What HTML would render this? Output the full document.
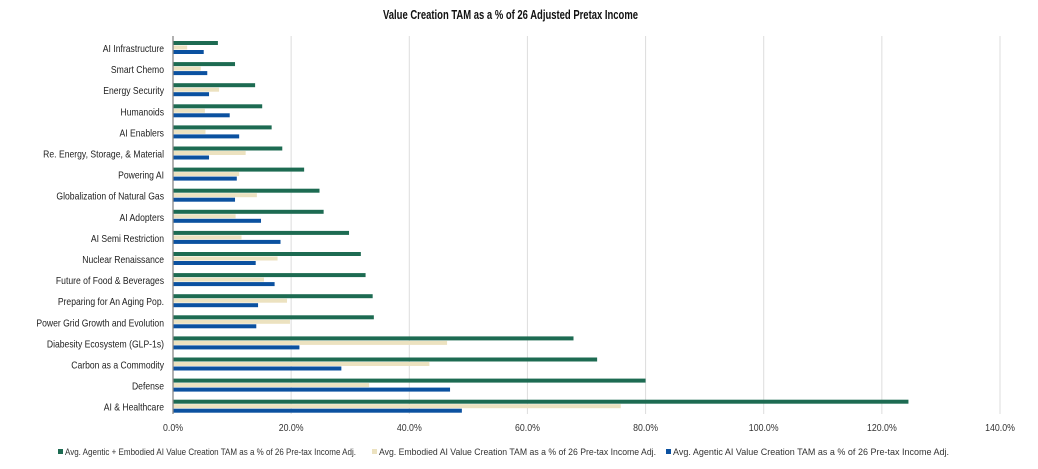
<!DOCTYPE html>
<html><head><meta charset="utf-8"><style>
body{margin:0;background:#fff;width:1038px;height:464px;overflow:hidden;font-family:"Liberation Sans",sans-serif;}
svg text{font-family:"Liberation Sans",sans-serif;}
</style></head><body>
<svg id="chart" width="1038" height="464" xmlns="http://www.w3.org/2000/svg">
<text x="383" y="19" font-size="12.5" font-weight="bold" fill="#111" textLength="255" lengthAdjust="spacingAndGlyphs">Value Creation TAM as a % of 26 Adjusted Pretax Income</text>
<g id="grid"></g><g id="bars"></g><g id="ylabels"></g><g id="xlabels"></g>
<line x1="173" y1="36" x2="173" y2="414" stroke="#888" stroke-width="1.3"/>
<g id="legend"></g>
</svg>
<script>
const categories=["AI Infrastructure","Smart Chemo","Energy Security","Humanoids","AI Enablers","Re. Energy, Storage, & Material","Powering AI","Globalization of Natural Gas","AI Adopters","AI Semi Restriction","Nuclear Renaissance","Future of Food & Beverages","Preparing for An Aging Pop.","Power Grid Growth and Evolution","Diabesity Ecosystem (GLP-1s)","Carbon as a Commodity","Defense","AI & Healthcare"];
const combinedValues=[7.6,10.5,13.9,15.1,16.7,18.5,22.2,24.8,25.5,29.8,31.8,32.6,33.8,34.0,67.8,71.8,80.0,124.5];
const embodiedValues=[2.4,4.7,7.8,5.4,5.5,12.3,11.2,14.2,10.6,11.6,17.7,15.4,19.3,19.8,46.4,43.4,33.2,75.8];
const agenticValues=[5.2,5.8,6.1,9.6,11.2,6.1,10.8,10.5,14.9,18.2,14.0,17.2,14.4,14.1,21.4,28.5,46.9,48.9];
const xTicks=[0,20,40,60,80,100,120,140];
const xTickLabels=["0.0%","20.0%","40.0%","60.0%","80.0%","100.0%","120.0%","140.0%"];
const seriesNames=["Avg. Agentic + Embodied AI Value Creation TAM as a % of 26 Pre-tax Income Adj.","Avg. Embodied AI Value Creation TAM as a % of 26 Pre-tax Income Adj.","Avg. Agentic AI Value Creation TAM as a % of 26 Pre-tax Income Adj."];
const NS="http://www.w3.org/2000/svg";
const x0=173,pxPer=(1000-173)/140;
const xs=v=>x0+v*pxPer;
const yc=i=>48+i*21.1;
const colors=["#1d6b52","#ece2c0","#0b51a0"];
function mk(t,a,p){const e=document.createElementNS(NS,t);for(const k in a)e.setAttribute(k,a[k]);p.appendChild(e);return e;}
const grid=document.getElementById('grid'),xl=document.getElementById('xlabels');
xTicks.forEach((t,i)=>{
 if(t>0){const l=mk('line',{x1:xs(t),x2:xs(t),y1:36,y2:414,stroke:'#ddd','stroke-width':1},grid);
 
 }
 const g=mk('g',{transform:`translate(${xs(t)},431) scale(0.88,1)`},xl);
 const tx=mk('text',{x:0,y:0,'text-anchor':'middle','font-size':10,fill:'#333'},g);tx.textContent=xTickLabels[i];
 
 
});
const bars=document.getElementById('bars'),yl=document.getElementById('ylabels');
const series=[combinedValues,embodiedValues,agenticValues];
categories.forEach((c,i)=>{
 const g=mk('g',{transform:`translate(164,${yc(i)+4}) scale(0.82,1)`},yl);
 const t=mk('text',{x:0,y:0,'text-anchor':'end','font-size':10.5,fill:'#222'},g);t.textContent=c;
 
 
 series.forEach((s,j)=>{
  const r=mk('rect',{x:x0,y:yc(i)-7+j*4.5,width:Math.max(0,xs(s[i])-x0),height:4,fill:colors[j]},bars);
  
  
 });
});
const lg=document.getElementById('legend');
const lx=[58,372,666];
const lw=[291,277,276];
seriesNames.forEach((n,j)=>{
 const r=mk('rect',{x:lx[j],y:449,width:5,height:5,fill:colors[j]},lg);
 
 
 const t=mk('text',{x:lx[j]+7,y:455,'font-size':9.5,fill:'#333',textLength:lw[j],lengthAdjust:'spacingAndGlyphs'},lg);t.textContent=n;
 
 
});
</script>
</body></html>
